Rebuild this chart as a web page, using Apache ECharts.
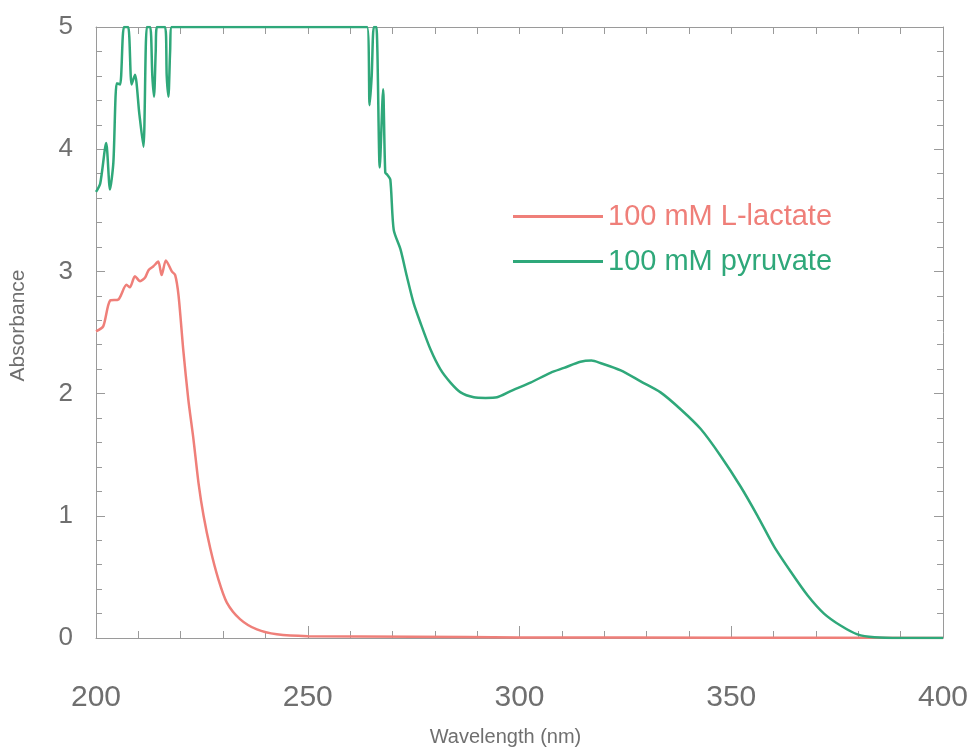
<!DOCTYPE html>
<html>
<head>
<meta charset="utf-8">
<script src="https://cdn.jsdelivr.net/npm/echarts@6/dist/echarts.min.js"></script>
<style>
html,body{margin:0;padding:0;background:#fff;}
#chart{width:973px;height:752px;}
</style>
</head>
<body>
<div id="chart"></div>
<script>
// ---- data ----
var seriesNames = ['100 mM L-lactate', '100 mM pyruvate'];
var xTicks = [200, 250, 300, 350, 400];
var yTicks = [0, 1, 2, 3, 4, 5];

var lactateWl = [200, 201.7, 203.3, 205.3, 207.2, 208, 209.2, 210.4, 211.6, 212.4, 213.5, 214.7, 215.5, 216.5, 217.9, 218.7, 219.5, 220.6, 221.8, 223, 224.2, 225.4, 227, 228.9, 230.9, 234, 238, 242.7, 250, 275, 300, 350, 400];
var lactateAbs = [2.51, 2.55, 2.76, 2.77, 2.89, 2.87, 2.96, 2.92, 2.95, 3.01, 3.04, 3.08, 2.97, 3.09, 3.00, 2.97, 2.80, 2.36, 1.95, 1.63, 1.27, 1.00, 0.73, 0.48, 0.29, 0.155, 0.07, 0.03, 0.015, 0.01, 0.005, 0.002, 0.0];

var pyruvateWl = [200, 201, 202.4, 203.3, 204.1, 204.9, 205.7, 206.6, 207.6, 208.4, 209.2, 210.2, 211.2, 212, 212.8, 213.3, 213.7, 214.1, 214.4, 216.3, 216.7, 217.1, 217.5, 217.9, 264, 264.6, 265.1, 265.6, 266.2, 267, 267.8, 268.3, 268.8, 269.5, 270.3, 271.9, 273.4, 275, 276.6, 279, 281.3, 283.7, 286.1, 289.2, 292, 294.7, 297.9, 302.6, 307.3, 310.5, 314.4, 317, 319.1, 323.9, 328.6, 333.3, 338.1, 342.8, 347.5, 352.2, 356.2, 360.1, 364.1, 368, 371.9, 375.9, 379.8, 383.8, 390, 400];
var pyruvateAbs = [3.65, 3.72, 4.05, 3.67, 3.89, 4.54, 4.53, 5.0, 5.0, 4.53, 4.61, 4.3, 4.02, 5.0, 5.0, 4.6, 4.43, 4.8, 5.0, 5.0, 4.6, 4.43, 4.8, 5.0, 5.0, 4.36, 4.6, 5.0, 5.0, 3.85, 4.49, 3.81, 3.79, 3.75, 3.34, 3.18, 2.96, 2.74, 2.58, 2.36, 2.20, 2.09, 2.01, 1.97, 1.965, 1.97, 2.02, 2.09, 2.17, 2.21, 2.26, 2.27, 2.25, 2.19, 2.10, 2.01, 1.87, 1.71, 1.49, 1.24, 1.00, 0.75, 0.54, 0.35, 0.20, 0.10, 0.03, 0.006, 0.0, 0.0];

// ---- build chart ----
function zip(a, b) { return a.map(function (v, i) { return [v, b[i]]; }); }
var red = '#ef7f79';
var green = '#2fa87a';
var axisGray = '#9a9a9a';
var textGray = '#6f6f6f';
var font = '"Liberation Sans", Arial, sans-serif';

var chart = echarts.init(document.getElementById('chart'), null, {renderer: 'canvas'});

function xAxisDef(pos, labels) {
  return {
    type: 'value', position: pos,
    min: xTicks[0], max: xTicks[xTicks.length - 1], interval: xTicks[1] - xTicks[0],
    axisLine: {show: true, onZero: false, lineStyle: {color: axisGray, width: 1}},
    axisTick: {show: true, inside: true, length: labels ? 12 : 7, lineStyle: {color: axisGray}},
    minorTick: {show: true, splitNumber: 5, length: 7, lineStyle: {color: axisGray}},
    splitLine: {show: false},
    axisLabel: {show: labels, fontSize: 30, color: textGray, fontFamily: font, margin: 45},
    name: labels ? 'Wavelength (nm)' : '',
    nameLocation: 'middle', nameGap: 89,
    nameTextStyle: {fontSize: 20, color: textGray, fontFamily: font, padding: [0, 28, 0, 0]}
  };
}
function yAxisDef(pos, labels) {
  return {
    type: 'value', position: pos,
    min: yTicks[0], max: yTicks[yTicks.length - 1], interval: yTicks[1] - yTicks[0],
    axisLine: {show: true, onZero: false, lineStyle: {color: axisGray, width: 1}},
    axisTick: {show: true, inside: true, length: 9, lineStyle: {color: axisGray}},
    minorTick: {show: true, splitNumber: 5, length: 6, lineStyle: {color: axisGray}},
    splitLine: {show: false},
    axisLabel: {show: labels, fontSize: 26, color: textGray, fontFamily: font, margin: 23},
    name: labels ? 'Absorbance' : '',
    nameLocation: 'middle', nameGap: 67,
    nameTextStyle: {fontSize: 21, color: textGray, fontFamily: font, padding: [0, 0, 0, 14]}
  };
}

var option = {
  backgroundColor: '#fff',
  animation: false,
  grid: {left: 96, right: 30, top: 27, bottom: 112, containLabel: false},
  xAxis: [xAxisDef('bottom', true), xAxisDef('top', false)],
  yAxis: [yAxisDef('left', true), yAxisDef('right', false)],
  legend: {
    orient: 'vertical', left: 508, top: 196,
    icon: 'rect', itemWidth: 90, itemHeight: 3, itemGap: 14,
    textStyle: {fontSize: 29, fontFamily: font, lineHeight: 31},
    data: [
      {name: seriesNames[0], textStyle: {color: red}},
      {name: seriesNames[1], textStyle: {color: green}}
    ]
  },
  series: [
    {name: seriesNames[0], type: 'line', data: zip(lactateWl, lactateAbs), showSymbol: false, symbol: 'none',
     color: red, lineStyle: {color: red, width: 2.5}, smooth: 0.25},
    {name: seriesNames[1], type: 'line', data: zip(pyruvateWl, pyruvateAbs), showSymbol: false, symbol: 'none',
     color: green, lineStyle: {color: green, width: 2.5}, smooth: 0.25}
  ]
};
chart.setOption(option);
</script>
</body>
</html>
